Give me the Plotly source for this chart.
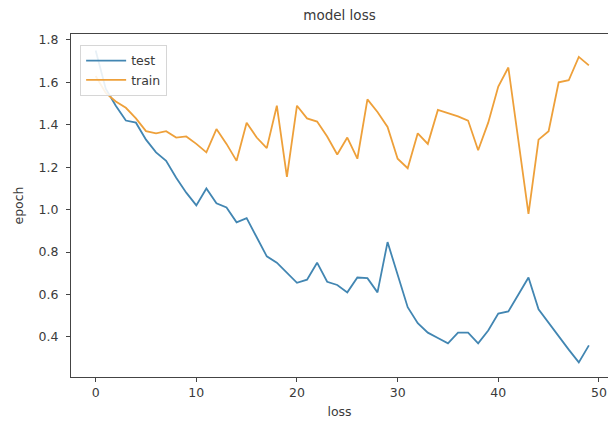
import plotly.graph_objects as go

# Per-epoch loss values for the two curves
epochs = list(range(50))
test_loss = [1.75, 1.57, 1.49, 1.42, 1.41, 1.33, 1.27, 1.23, 1.15, 1.08,
             1.02, 1.10, 1.03, 1.01, 0.94, 0.96, 0.87, 0.78, 0.75, 0.70,
             0.655, 0.67, 0.75, 0.66, 0.645, 0.61, 0.68, 0.677, 0.61, 0.847,
             0.69, 0.54, 0.465, 0.42, 0.395, 0.37, 0.42, 0.42, 0.37, 0.43,
             0.51, 0.52, 0.60, 0.68, 0.53, 0.465, 0.40, 0.34, 0.28, 0.36]
train_loss = [1.63, 1.55, 1.51, 1.48, 1.43, 1.37, 1.36, 1.37, 1.34, 1.345,
              1.31, 1.27, 1.38, 1.31, 1.23, 1.41, 1.34, 1.29, 1.49, 1.155,
              1.49, 1.43, 1.415, 1.345, 1.26, 1.34, 1.24, 1.52, 1.46, 1.39,
              1.24, 1.195, 1.36, 1.31, 1.47, 1.455, 1.44, 1.42, 1.28, 1.41,
              1.58, 1.67, 1.33, 0.98, 1.33, 1.37, 1.60, 1.61, 1.72, 1.68]

x_ticks = [0, 10, 20, 30, 40, 50]
y_ticks = [0.4, 0.6, 0.8, 1.0, 1.2, 1.4, 1.6, 1.8]

FONT = "DejaVu Sans"
TEXT = "#3a3a3a"
AXIS = "#444444"

fig = go.Figure()
fig.add_trace(go.Scatter(x=epochs, y=test_loss, mode="lines", name="test",
                         line=dict(color="#4286b2", width=1.8)))
fig.add_trace(go.Scatter(x=epochs, y=train_loss, mode="lines", name="train",
                         line=dict(color="#eea03a", width=1.8)))

fig.update_layout(
    width=608, height=427,
    margin=dict(l=71, r=0, t=34, b=50),
    paper_bgcolor="white", plot_bgcolor="white",
    font=dict(family=FONT, size=12, color=TEXT),
    title=dict(text="model loss", x=0.5, xref="paper", xanchor="center",
               y=1 - 15 / 427, yref="container", yanchor="middle",
               font=dict(family=FONT, size=13.5, color=TEXT)),
    legend=dict(x=0.017, y=0.968, xanchor="left", yanchor="top",
                bgcolor="rgba(255,255,255,0.88)", bordercolor="#d6d6d6",
                borderwidth=1, font=dict(family=FONT, size=12.5, color=TEXT),
                itemwidth=40, tracegroupgap=0),
    showlegend=True,
)

fig.update_xaxes(
    range=[-2.45, 50.9], tickmode="array", tickvals=x_ticks,
    ticks="outside", ticklen=4, tickwidth=1, tickcolor=AXIS,
    tickfont=dict(family=FONT, size=12.5, color=TEXT),
    showline=True, linecolor=AXIS, linewidth=1, mirror=True,
    showgrid=False, zeroline=False,
    title=dict(text="loss", standoff=8, font=dict(family=FONT, size=12.5, color=TEXT)),
)
fig.update_yaxes(
    range=[0.211, 1.828], tickmode="array", tickvals=y_ticks, tickformat=".1f",
    ticks="outside", ticklen=4, tickwidth=1, tickcolor=AXIS,
    tickfont=dict(family=FONT, size=12.5, color=TEXT), ticklabelstandoff=5,
    showline=True, linecolor=AXIS, linewidth=1, mirror=False,
    showgrid=False, zeroline=False,
    title=dict(text="epoch", standoff=12, font=dict(family=FONT, size=12.5, color=TEXT)),
)

fig.write_html("out.html")
